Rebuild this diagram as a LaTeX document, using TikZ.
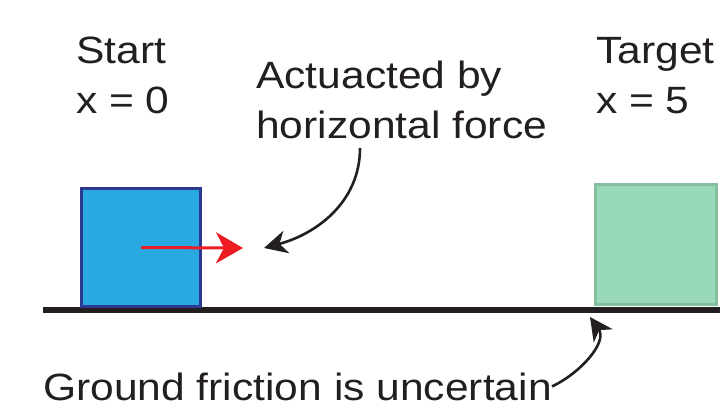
\documentclass[tikz,border=0pt]{standalone}
\usepackage{fontspec}
\setmainfont{Liberation Sans}[FakeStretch=1.12]
\usepackage{xcolor}
\usetikzlibrary{arrows.meta, positioning, calc}

\definecolor{inkblack}{HTML}{231F20}
\definecolor{boxblue}{HTML}{29A9E1}
\definecolor{edgeblue}{HTML}{2B3990}
\definecolor{boxgreen}{HTML}{97D9BA}
\definecolor{edgegreen}{HTML}{86BF9F}
\definecolor{forcered}{HTML}{ED1C24}

\begin{document}
\begin{tikzpicture}[
    x=1pt, y=-1pt,
    block/.style={rectangle, draw, line width=3pt, inner sep=0pt},
    label/.style={inner sep=0pt, anchor=base west, align=left, text=inkblack, font=\fontsize{38}{50}\selectfont},
    callout/.style={inkblack, line width=2.6pt, -{Stealth[length=23pt, width=23pt, inset=7pt]}},
    force/.style={forcered, line width=3pt, -{Stealth[length=27pt, width=31pt, inset=8pt]}}
]
\useasboundingbox (0,0) rectangle (720,416);

% Ground
\draw[inkblack, line width=5.5pt] (43,310) -- (720,310);

% Blocks
\node[block, draw=edgeblue, fill=boxblue, minimum width=119pt, minimum height=118pt] (startbox) at (141,247.5) {};
\node[block, draw=edgegreen, fill=boxgreen, minimum width=121pt, minimum height=120pt] (targetbox) at (655.5,244.5) {};

% Labels (base = last line)
\node[label] (startlabel) at (76,113) {Start\\x = 0};
\node[label] (targetlabel) at (596,113) {Target\\x = 5};
\node[label] (actlabel) at (256,138) {Actuacted by\\horizontal force};
\node[label] (grdlabel) at (43,400) {Ground friction is uncertain};

% Points
\coordinate (pushtip) at (243,248);
\coordinate (grdpt) at (590,317);

% Arrows
\draw[force] (startbox.center) -- (pushtip);
\draw[callout] ([xshift=104pt,yshift=-10pt]actlabel.base west) to[out=-90, in=15] ([xshift=21pt]pushtip);
\draw[callout] (grdlabel.east) to[out=25, in=-55] (grdpt);
\end{tikzpicture}
\end{document}
